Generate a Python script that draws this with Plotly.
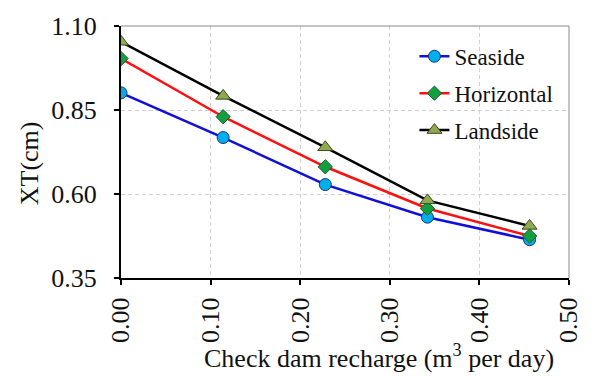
import plotly.graph_objects as go

recharge = [0.0, 0.114, 0.228, 0.342, 0.456]
seaside = [0.901, 0.768, 0.628, 0.531, 0.464]
horizontal = [1.003, 0.830, 0.681, 0.557, 0.475]
landside = [1.053, 0.892, 0.739, 0.581, 0.505]
x_ticks = [0.0, 0.1, 0.2, 0.3, 0.4, 0.5]
y_ticks = [0.35, 0.60, 0.85, 1.10]

font_family = "Liberation Serif, Times New Roman, serif"

W, H = 595, 376
L, R, T, B = 121, 24, 22, 98

fig = go.Figure()
fig.add_trace(go.Scatter(
    x=recharge, y=seaside, name="Seaside", mode="lines+markers", legendgroup="a",
    line=dict(color="#1010D8", width=2.5),
    marker=dict(symbol="circle", size=12, color="#00AEEF", line=dict(color="#1a3a6a", width=1)),
))
fig.add_trace(go.Scatter(
    x=recharge, y=horizontal, name="Horizontal", mode="lines+markers", legendgroup="b",
    line=dict(color="#FF1010", width=2.5),
    marker=dict(symbol="diamond", size=11, color="#10A040", line=dict(color="#1a5a2a", width=1)),
))
fig.add_trace(go.Scatter(
    x=recharge, y=landside, name="Landside", mode="lines+markers", legendgroup="c",
    line=dict(color="#000000", width=2.5),
    marker=dict(symbol="triangle-up", size=13, color="#8EAA50", line=dict(color="#3a4a20", width=1)),
))

fig.update_layout(
    width=W, height=H,
    margin=dict(l=L, r=R, t=T, b=B),
    paper_bgcolor="white", plot_bgcolor="white",
    font=dict(family=font_family, size=24, color="#111111"),
    showlegend=True,
    legend=dict(
        x=0.655, y=0.965, xanchor="left", yanchor="top",
        bgcolor="rgba(255,255,255,0)", borderwidth=0,
        font=dict(family=font_family, size=23, color="#111111"),
        tracegroupgap=4, itemwidth=30,
    ),
)

fig.update_xaxes(
    range=[0, 0.5], tickvals=x_ticks, ticktext=[f"{v:.2f}" for v in x_ticks],
    tickangle=-90, ticks="outside", ticklen=5, tickwidth=2, tickcolor="black",
    showline=True, linecolor="black", linewidth=2, mirror=False,
    showgrid=True, gridcolor="#D0D0D0", griddash="4px,3px", gridwidth=1,
    zeroline=False, ticklabelstandoff=2,
    tickfont=dict(size=26),
)
fig.update_yaxes(
    range=[0.35, 1.10], tickvals=y_ticks, ticktext=[f"{v:.2f}" for v in y_ticks],
    ticks="outside", ticklen=5, tickwidth=2, tickcolor="black",
    showline=True, linecolor="black", linewidth=2, mirror=False,
    showgrid=True, gridcolor="#D0D0D0", griddash="4px,3px", gridwidth=1,
    zeroline=False, ticklabelstandoff=12,
    tickfont=dict(size=26),
)

pw = W - L - R
ph = H - T - B
# axis titles as annotations (positions in paper coords)
fig.add_annotation(
    text="Check dam recharge (m<sup>3</sup> per day)", xref="paper", yref="paper",
    x=(380 - L) / pw, y=-(358 - (T + ph)) / ph, xanchor="center", yanchor="middle",
    showarrow=False, font=dict(family=font_family, size=26, color="#111111"),
)
fig.add_annotation(
    text="XT(cm)", xref="paper", yref="paper",
    x=(29 - L) / pw, y=((T + ph) - 161) / ph, xanchor="center", yanchor="middle",
    textangle=-90, showarrow=False, font=dict(family=font_family, size=26, color="#111111"),
)

# thin gray top and right border
fig.add_shape(type="line", xref="paper", yref="paper", x0=0, x1=1, y0=1, y1=1,
              line=dict(color="#888888", width=1))
fig.add_shape(type="line", xref="paper", yref="paper", x0=1, x1=1, y0=0, y1=1,
              line=dict(color="#888888", width=1))

fig.write_html("out.html")
